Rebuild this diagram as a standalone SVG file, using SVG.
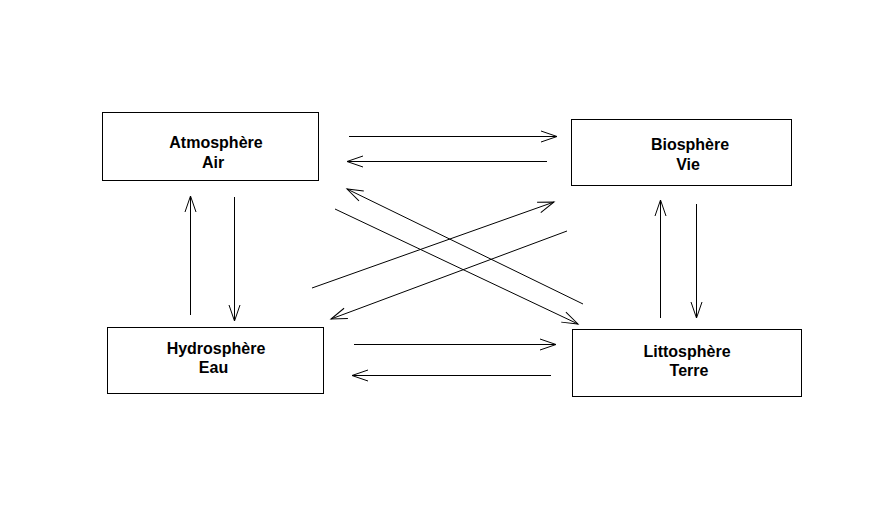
<svg xmlns="http://www.w3.org/2000/svg" width="875" height="505" viewBox="0 0 875 505">
  <defs>
    <style>
      .box { fill: #ffffff; stroke: #000000; stroke-width: 1; }
      .lbl { font-family: "Liberation Sans", Arial, sans-serif; font-size: 16px; font-weight: bold; fill: #000000; text-anchor: middle; }
      .conn line { stroke: #000000; stroke-width: 1; fill: none; marker-end: url(#arrow); }
    </style>
    <marker id="arrow" markerUnits="userSpaceOnUse" markerWidth="20" markerHeight="14" refX="17" refY="7" orient="auto">
      <path d="M1,1.5 L17,7 L1,12.5" fill="none" stroke="#000000" stroke-width="1"/>
    </marker>
  </defs>
  <rect x="0" y="0" width="875" height="505" fill="#ffffff"/>

  <g id="atmosphere">
    <rect class="box" x="102.5" y="112.5" width="216" height="68"/>
    <text class="lbl" x="216" y="148">Atmosphère</text>
    <text class="lbl" x="213" y="168">Air</text>
  </g>

  <g id="biosphere">
    <rect class="box" x="571.5" y="119.5" width="220" height="66"/>
    <text class="lbl" x="690" y="149.5">Biosphère</text>
    <text class="lbl" x="688" y="170">Vie</text>
  </g>

  <g id="hydrosphere">
    <rect class="box" x="107.5" y="327.5" width="216" height="66"/>
    <text class="lbl" x="216" y="353.5">Hydrosphère</text>
    <text class="lbl" x="213.5" y="372.5">Eau</text>
  </g>

  <g id="littosphere">
    <rect class="box" x="572.5" y="329.5" width="229" height="67"/>
    <text class="lbl" x="687" y="356.5">Littosphère</text>
    <text class="lbl" x="689" y="375.5">Terre</text>
  </g>

  <g id="connectors" class="conn">
    <line x1="349" y1="136.5" x2="557" y2="136.5"/>
    <line x1="547" y1="161.5" x2="347" y2="161.5"/>
    <line x1="583" y1="304" x2="347" y2="189"/>
    <line x1="335" y1="209" x2="578" y2="324"/>
    <line x1="312" y1="288" x2="554" y2="202"/>
    <line x1="567" y1="231" x2="331" y2="319"/>
    <line x1="190.5" y1="315" x2="190.5" y2="196"/>
    <line x1="234.5" y1="197" x2="234.5" y2="321"/>
    <line x1="660.5" y1="318" x2="660.5" y2="200"/>
    <line x1="696.5" y1="204" x2="696.5" y2="318"/>
    <line x1="354" y1="344.5" x2="556" y2="344.5"/>
    <line x1="551" y1="375.5" x2="352" y2="375.5"/>
  </g>
</svg>
